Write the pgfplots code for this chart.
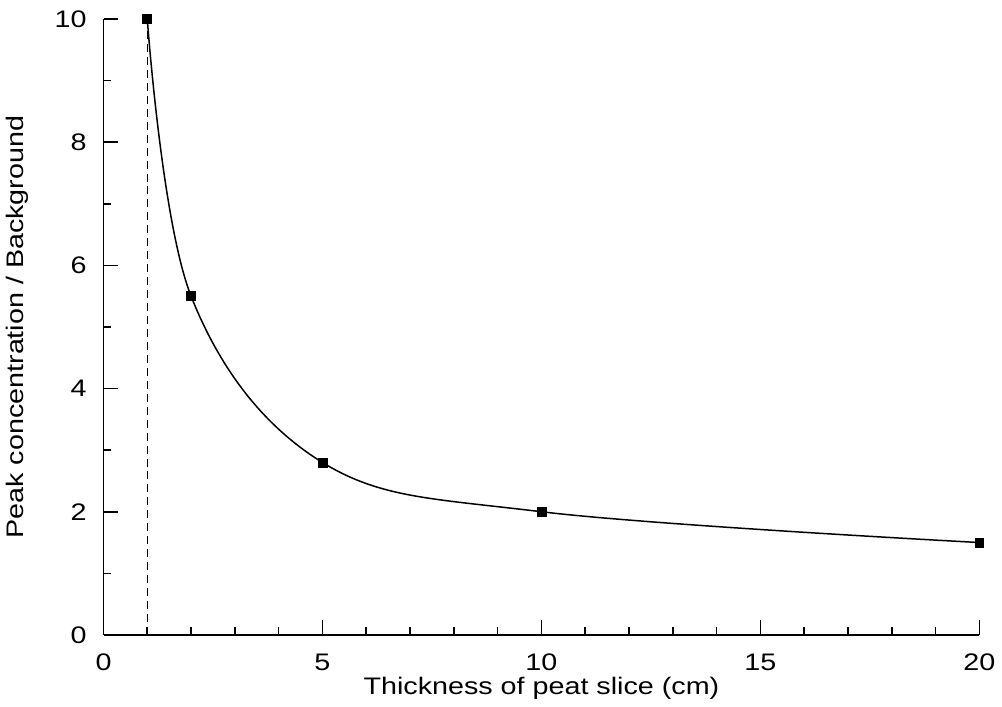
\documentclass[border=0pt]{standalone}
\usepackage{pgfplots}
\pgfplotsset{compat=1.18}
\usepackage{fontspec}
\setmainfont{Liberation Sans}[FakeStretch=1.2]
\begin{document}
\begin{tikzpicture}
\begin{axis}[
  scale only axis, width=439.5pt, height=309pt,
  xmin=0, xmax=20, ymin=0, ymax=10,
  axis lines*=left,
  xtick={0,5,10,15,20}, ytick={0,2,4,6,8,10},
  minor x tick num=4, minor y tick num=1,
  tick align=inside,
  major tick length=7.5pt, minor tick length=4pt,
  tick style={black, line width=0.8pt},
  axis line style={black, line width=1pt},
  font=\fontsize{12}{14}\selectfont,
  /pgf/number format/assume math mode=true,
  yticklabel style={xshift=-5pt},
  xticklabel style={yshift=-6pt},
  xlabel={Thickness of peat slice (cm)},
  ylabel={Peak concentration / Background},
  xlabel style={yshift=3.5pt},
  ylabel style={yshift=6pt},
  clip=false,
]
\addplot[black, dash pattern=on 4pt off 2.5pt, line width=0.75pt] coordinates {(1,0) (1,10)};
\addplot[black, line width=0.75pt, smooth, tension=0.6] coordinates {(1,10) (2,5.5) (5,2.8) (10,2) (20,1.5)};
\addplot[black, only marks, mark=square*, mark size=2.25pt] coordinates {(1,10) (2,5.5) (5,2.8) (10,2) (20,1.5)};
\end{axis}
\path (current bounding box.north) ++(0,2pt);
\end{tikzpicture}
\end{document}
